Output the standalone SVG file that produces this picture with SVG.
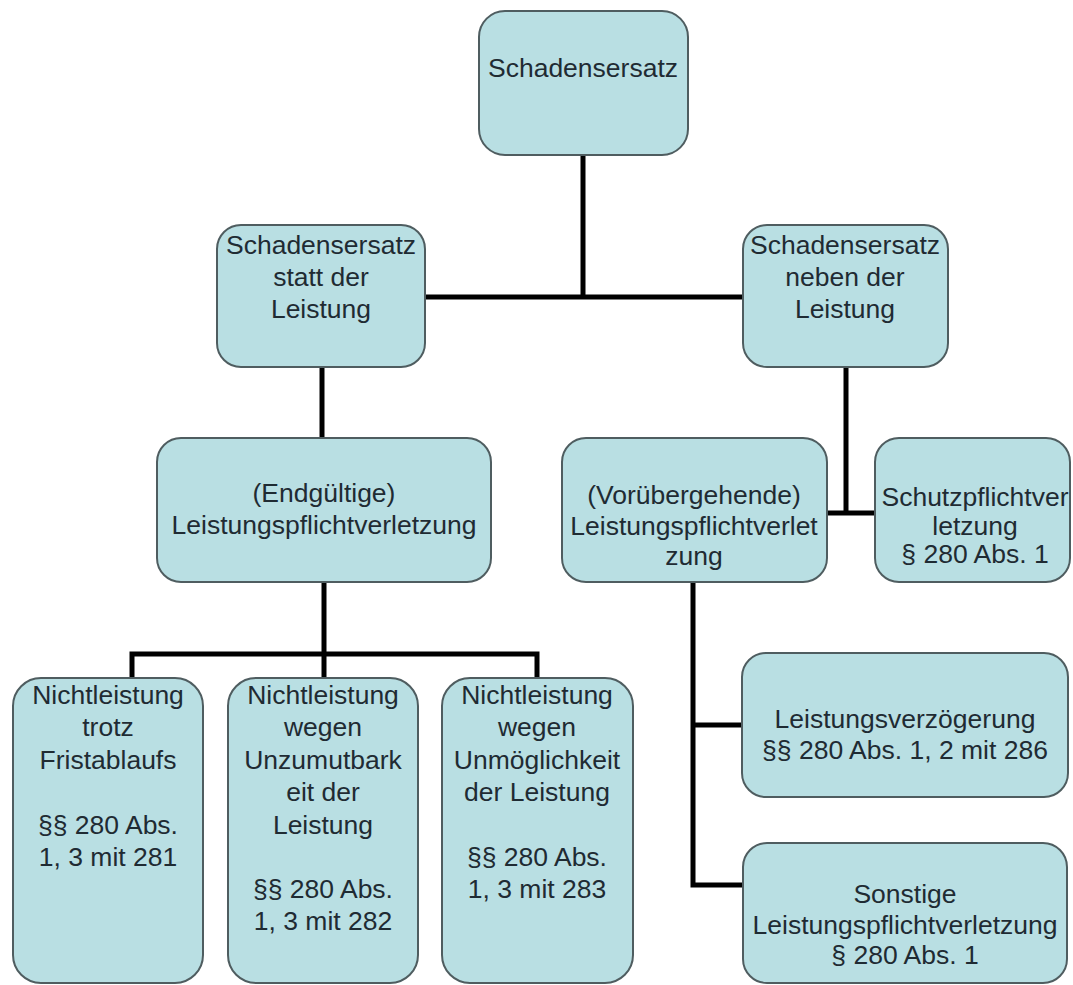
<svg xmlns="http://www.w3.org/2000/svg" width="1073" height="985" viewBox="0 0 1073 985">
<style>
.box{fill:#b9dfe3;stroke:#4f5d60;stroke-width:2}
.t{font-family:"Liberation Sans",Arial,sans-serif;font-size:26.5px;fill:#1f2b33;text-anchor:middle}
.c{stroke:#000;stroke-width:5;fill:none;stroke-linecap:square}
</style>
<rect width="1073" height="985" fill="#ffffff"/>
<g id="connectors">
<path class="c" d="M583,155 V297 M425,297 H743"/>
<path class="c" d="M322,367 V438"/>
<path class="c" d="M846,367 V513 M827,513 H875"/>
<path class="c" d="M324,582 V678 M132,678 V654 H537 V678"/>
<path class="c" d="M693,582 V885 H743 M693,725 H742"/>
</g>
<g id="n-schadensersatz">
<rect class="box" x="479" y="11" width="209" height="144" rx="26"/>
<text class="t" x="583" y="77">Schadensersatz</text>
</g>
<g id="n-statt">
<rect class="box" x="217" y="225" width="208" height="142" rx="24"/>
<text class="t"><tspan x="321" y="254">Schadensersatz</tspan><tspan x="321" y="286">statt der</tspan><tspan x="321" y="318">Leistung</tspan></text>
</g>
<g id="n-neben">
<rect class="box" x="743" y="225" width="205" height="142" rx="24"/>
<text class="t"><tspan x="845" y="254">Schadensersatz</tspan><tspan x="845" y="286">neben der</tspan><tspan x="845" y="318">Leistung</tspan></text>
</g>
<g id="n-endgueltig">
<rect class="box" x="157" y="438" width="334" height="144" rx="24"/>
<text class="t"><tspan x="324" y="502">(Endgültige)</tspan><tspan x="324" y="534">Leistungspflichtverletzung</tspan></text>
</g>
<g id="n-voruebergehend">
<rect class="box" x="562" y="438" width="265" height="144" rx="24"/>
<text class="t"><tspan x="694" y="504">(Vorübergehende)</tspan><tspan x="694" y="535">Leistungspflichtverlet</tspan><tspan x="694" y="565">zung</tspan></text>
</g>
<g id="n-schutz">
<rect class="box" x="875" y="438" width="195" height="144" rx="24"/>
<text class="t"><tspan x="975" y="506">Schutzpflichtver</tspan><tspan x="975" y="535">letzung</tspan><tspan x="975" y="563">§ 280 Abs. 1</tspan></text>
</g>
<g id="n-frist">
<rect class="box" x="13" y="678" width="190" height="305" rx="28"/>
<text class="t"><tspan x="108" y="704">Nichtleistung</tspan><tspan x="108" y="736">trotz</tspan><tspan x="108" y="769">Fristablaufs</tspan><tspan x="108" y="834">§§ 280 Abs.</tspan><tspan x="108" y="866">1, 3 mit 281</tspan></text>
</g>
<g id="n-unzumutbar">
<rect class="box" x="228" y="678" width="190" height="305" rx="28"/>
<text class="t"><tspan x="323" y="704">Nichtleistung</tspan><tspan x="323" y="736">wegen</tspan><tspan x="323" y="769">Unzumutbark</tspan><tspan x="323" y="801">eit der</tspan><tspan x="323" y="834">Leistung</tspan><tspan x="323" y="898">§§ 280 Abs.</tspan><tspan x="323" y="930">1, 3 mit 282</tspan></text>
</g>
<g id="n-unmoeglich">
<rect class="box" x="442" y="678" width="191" height="305" rx="28"/>
<text class="t"><tspan x="537" y="704">Nichtleistung</tspan><tspan x="537" y="736">wegen</tspan><tspan x="537" y="769">Unmöglichkeit</tspan><tspan x="537" y="801">der Leistung</tspan><tspan x="537" y="866">§§ 280 Abs.</tspan><tspan x="537" y="898">1, 3 mit 283</tspan></text>
</g>
<g id="n-verzoegerung">
<rect class="box" x="742" y="653" width="326" height="144" rx="24"/>
<text class="t"><tspan x="905" y="728">Leistungsverzögerung</tspan><tspan x="905" y="759">§§ 280 Abs. 1, 2 mit 286</tspan></text>
</g>
<g id="n-sonstige">
<rect class="box" x="743" y="843" width="324" height="140" rx="24"/>
<text class="t"><tspan x="905" y="903">Sonstige</tspan><tspan x="905" y="934">Leistungspflichtverletzung</tspan><tspan x="905" y="964">§ 280 Abs. 1</tspan></text>
</g>
</svg>
